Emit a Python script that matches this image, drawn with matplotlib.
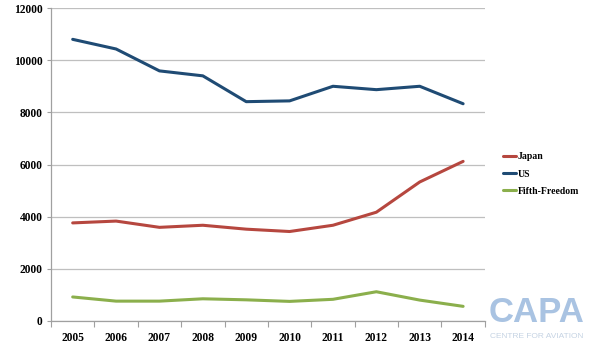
import matplotlib
matplotlib.use('Agg')
import matplotlib.pyplot as plt
import numpy as np

years = ['2005', '2006', '2007', '2008', '2009', '2010', '2011', '2012', '2013', '2014']
japan = [3760, 3830, 3590, 3670, 3520, 3430, 3670, 4170, 5330, 6120]
us = [10800, 10430, 9590, 9400, 8410, 8440, 9000, 8870, 9000, 8330]
fifth = [920, 760, 760, 850, 810, 750, 830, 1120, 800, 560]

series = [('Japan', japan, '#B6473F'), ('US', us, '#1F4B74'), ('Fifth-Freedom', fifth, '#8BAF4C')]

plt.rcParams['font.family'] = ['Liberation Serif', 'DejaVu Serif']

fig = plt.figure(figsize=(6, 3.5), dpi=100)
ax = fig.add_axes([0.085, 0.083, 0.723, 0.894])

xs = np.arange(len(years))
for name, vals, color in series:
    ax.plot(xs, vals, color=color, lw=2.2, label=name, solid_capstyle='round')

ax.set_xlim(-0.5, len(years) - 0.5)
ax.set_ylim(0, 12000)
ax.set_yticks(range(0, 12001, 2000))
ax.set_yticklabels([str(v) for v in range(0, 12001, 2000)], fontsize=8.3, fontweight='bold')
ax.grid(axis='y', color='#BFBFBF', lw=0.9)
ax.set_axisbelow(True)

# category boundaries get the tick marks, labels sit at centres
ax.set_xticks(np.arange(-0.5, len(years), 1.0))
ax.set_xticklabels([])
ax.set_xticks(xs, minor=True)
ax.set_xticklabels(years, minor=True, fontsize=8.3, fontweight='bold')
ax.tick_params(axis='x', which='major', length=4, color='#A0A0A0', width=0.8)
ax.tick_params(axis='x', which='minor', length=0, pad=8)
ax.tick_params(axis='y', length=3, color='#A0A0A0', width=0.8, pad=3)

for side in ['top', 'right']:
    ax.spines[side].set_visible(False)
for side in ['left', 'bottom']:
    ax.spines[side].set_color('#A0A0A0')
    ax.spines[side].set_linewidth(0.9)

leg = fig.legend(loc='upper left', bbox_to_anchor=(0.823, 0.59), frameon=False,
                 prop={'size': 7, 'weight': 'bold'}, handlelength=1.4,
                 handletextpad=0.15, labelspacing=0.85)

fig.text(0.895, 0.08, 'CAPA', color='#A9C3E2', fontsize=25, fontweight='bold',
         family='Liberation Sans', ha='center', va='baseline')
fig.text(0.895, 0.035, 'CENTRE FOR AVIATION', color='#C5D3E3', fontsize=6,
         family='Liberation Sans', ha='center', va='baseline')

fig.savefig('out.png', dpi=100)
